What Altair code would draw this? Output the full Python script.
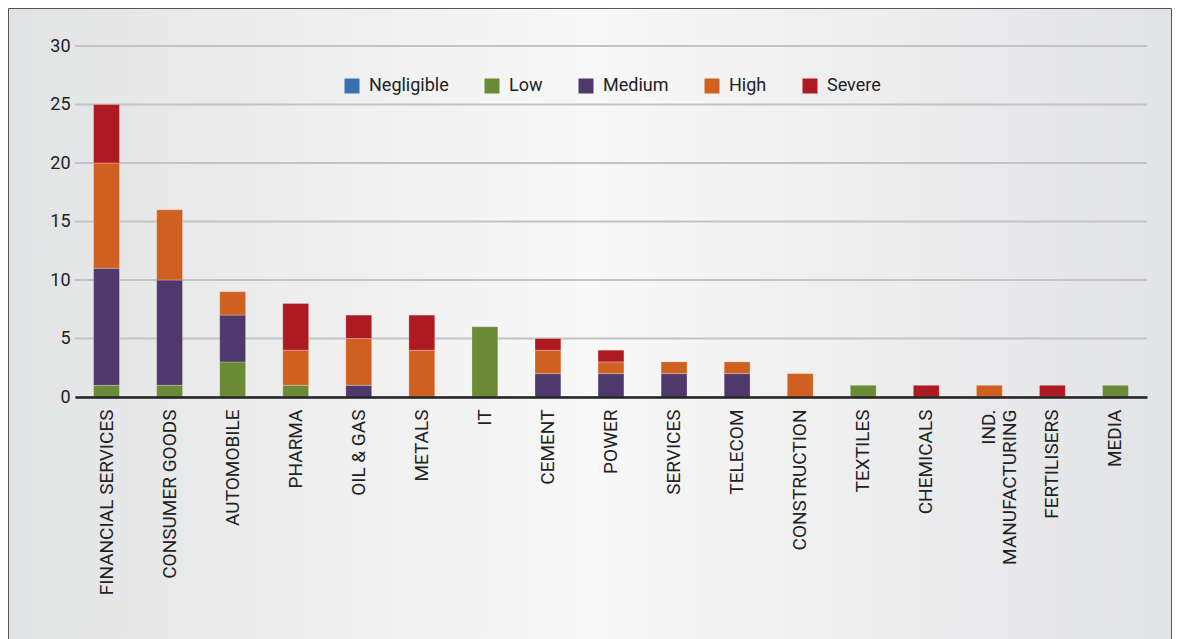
import altair as alt
import pandas as pd

categories = ["FINANCIAL SERVICES", "CONSUMER GOODS", "AUTOMOBILE", "PHARMA", "OIL & GAS",
              "METALS", "IT", "CEMENT", "POWER", "SERVICES", "TELECOM", "CONSTRUCTION",
              "TEXTILES", "CHEMICALS", "IND. MANUFACTURING", "FERTILISERS", "MEDIA"]
levels = ["Negligible", "Low", "Medium", "High", "Severe"]
colors = ["#3a70b0", "#6a8a35", "#4f386c", "#d0601f", "#ae1a21"]

negligible = [0, 0, 0, 0, 0, 0, 0, 0, 0, 0, 0, 0, 0, 0, 0, 0, 0]
low        = [1, 1, 3, 1, 0, 0, 6, 0, 0, 0, 0, 0, 1, 0, 0, 0, 1]
medium     = [10, 9, 4, 0, 1, 0, 0, 2, 2, 2, 2, 0, 0, 0, 0, 0, 0]
high       = [9, 6, 2, 3, 4, 4, 0, 2, 1, 1, 1, 2, 0, 0, 1, 0, 0]
severe     = [5, 0, 0, 4, 2, 3, 0, 1, 1, 0, 0, 0, 0, 1, 0, 1, 0]
y_ticks = [0, 5, 10, 15, 20, 25, 30]

series = [negligible, low, medium, high, severe]
rows = []
for i, c in enumerate(categories):
    for j, (lvl, vals) in enumerate(zip(levels, series)):
        rows.append({"sector": c, "level": lvl, "ord": j, "count": vals[i]})
df = pd.DataFrame(rows)

W, H = 1072, 351
PL, PT, PR, PB = 67, 38, 25, 242
FONT = "Roboto"

y_axis = alt.Axis(title=None, values=y_ticks, grid=False, domain=False, ticks=False,
                  labelFont=FONT, labelFontSize=18, labelColor="#222222", labelPadding=5,
                  zindex=1)
y_scale = alt.Scale(domain=[0, 30])

bg = alt.Chart(pd.DataFrame({"k": [0]})).mark_rect(
    fill=alt.Gradient(
        gradient="linear", x1=0, x2=1, y1=0, y2=0,
        stops=[alt.GradientStop(color="#e2e3e4", offset=0),
               alt.GradientStop(color="#f8f8f8", offset=0.5),
               alt.GradientStop(color="#e2e3e5", offset=1)]),
    stroke="#555555", strokeWidth=1,
).encode(x=alt.value(-PL + 0.5), x2=alt.value(W + PR - 0.5),
         y=alt.value(-PT + 0.5), y2=alt.value(H + PB + 20))

grid = alt.Chart(pd.DataFrame({"v": y_ticks})).mark_rule(
    color="#c3c3c3", strokeWidth=2
).encode(y=alt.Y("v:Q", scale=y_scale, axis=y_axis))

bars = alt.Chart(df).transform_filter("datum.count > 0").mark_bar(
    stroke="white", strokeOpacity=0.25, strokeWidth=1
).encode(
    x=alt.X("sector:N", sort=categories,
            scale=alt.Scale(paddingInner=0.59, paddingOuter=0.295),
            axis=alt.Axis(title=None, labelAngle=270, labelAlign="right", labelBaseline="middle",
                          labelFont=FONT, labelFontSize=19, labelColor="#222222", labelLimit=400,
                          labelPadding=12, ticks=False, domainColor="#222222", domainWidth=2.5,
                          labelLineHeight=21, zindex=1,
                          labelExpr="datum.value == 'IND. MANUFACTURING' ? ['IND.', 'MANUFACTURING'] : datum.label")),
    y=alt.Y("count:Q", stack="zero", scale=y_scale, axis=y_axis),
    color=alt.Color("level:N", scale=alt.Scale(domain=levels, range=colors),
                    legend=alt.Legend(title=None, orient="none", legendX=268, legendY=31,
                                      direction="horizontal", symbolType="square", symbolSize=225,
                                      symbolStrokeWidth=0, symbolOpacity=1,
                                      labelFont=FONT, labelFontSize=18, labelColor="#222222",
                                      labelOffset=8, columnPadding=34)),
    order=alt.Order("ord:Q"),
)

chart = alt.layer(bg, grid, bars).properties(
    width=W, height=H,
    padding={"left": PL, "top": PT, "right": PR, "bottom": PB},
    autosize=alt.AutoSizeParams(type="none"),
).configure_view(stroke=None).configure(background="#ffffff")

chart.save("out.html", embed_options={"renderer": "svg", "actions": False})
